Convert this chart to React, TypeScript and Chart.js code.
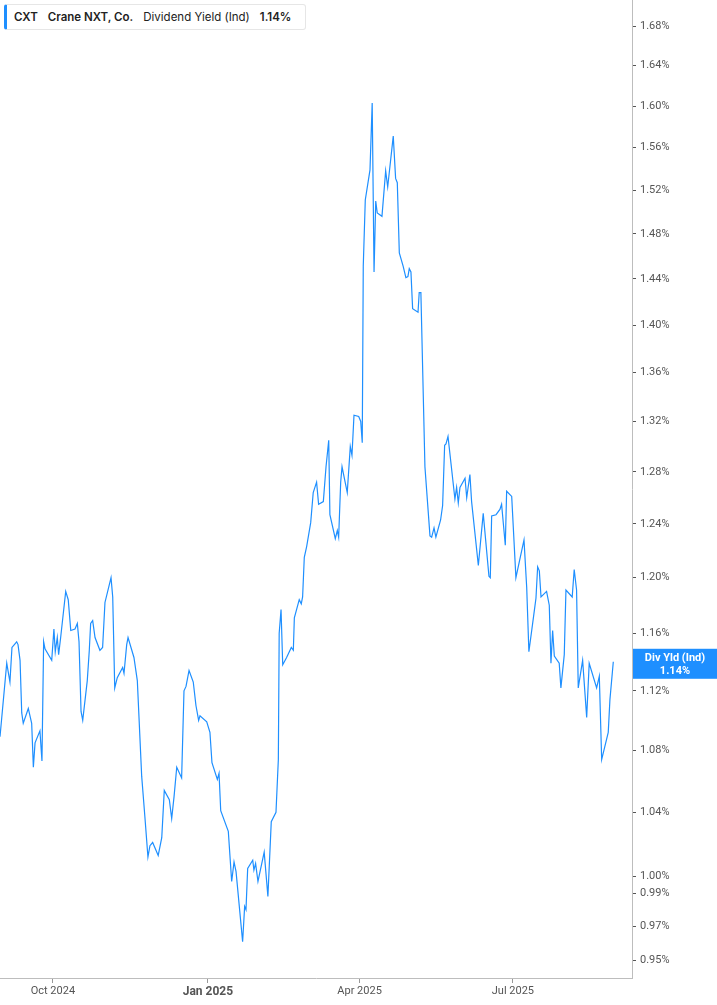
import { useEffect, useRef } from 'react';
import { Chart, registerables } from 'chart.js';

Chart.register(...registerables);

// days counted from 2024-08-30
const dayOffsets = [
  0.6, 4.6, 6.5, 7.7, 10.5, 11.3, 12.5, 13.5, 14.4, 17.4, 19.4, 20.4, 21.4, 24.3, 25.5, 26.5, 27.3, 31.3,
  32.6, 33.4, 34.6, 35.4, 36.6, 39.6, 41.1, 42.6, 45.1, 46.5, 47.5, 48.7, 49.7, 52.4, 53.6, 54.4, 55.6, 57.0,
  59.9, 61.5, 62.9, 66.5, 67.5, 68.7, 70.2, 73.4, 74.2, 75.8, 76.6, 80.1, 82.1, 84.7, 86.6, 88.4, 89.6, 91.2,
  94.5, 96.6, 98.1, 101.1, 102.5, 103.9, 105.5, 108.4, 109.8, 111.0, 112.8, 115.3, 116.9, 118.5, 119.3, 123.3,
  125.2, 126.4, 129.6, 130.6, 131.6, 136.1, 138.1, 139.5, 140.7, 144.6, 145.8, 146.6, 147.6, 150.6, 151.3,
  152.3, 153.7, 157.4, 159.6, 161.6, 164.4, 165.8, 166.3, 167.4, 168.4, 170.7, 173.5, 174.7, 175.3, 178.2,
  179.4, 180.2, 181.2, 182.6, 185.0, 186.5, 188.5, 189.7, 192.5, 194.1, 195.7, 196.4, 199.6, 200.8, 201.6,
  202.8, 203.6, 206.7, 208.5, 209.5, 210.7, 213.5, 214.7, 215.6, 216.2, 217.4, 220.2, 221.5, 222.6, 223.6,
  224.5, 227.3, 229.5, 230.7, 234.0, 235.4, 236.4, 237.6, 239.9, 241.5, 242.7, 243.5, 244.5, 245.5, 248.7,
  249.4, 250.4, 252.8, 255.8, 256.8, 258.2, 259.3, 262.1, 263.3, 264.5, 265.3, 266.5, 270.6, 271.6, 272.6,
  273.6, 276.6, 277.6, 279.5, 280.5, 284.5, 287.4, 290.8, 291.6, 292.4, 295.0, 297.3, 298.3, 300.5, 301.3,
  304.3, 306.8, 311.6, 313.2, 314.5, 317.5, 318.7, 319.7, 320.7, 321.7, 325.0, 326.6, 327.6, 328.6, 329.6,
  332.5, 333.5, 335.5, 336.5, 340.2, 341.4, 342.8, 343.8, 346.4, 348.8, 350.3, 354.7, 356.3, 357.7, 361.6,
  362.6, 364.6,
];

const yieldPct = [
  1.089, 1.139, 1.126, 1.150, 1.154, 1.152, 1.141, 1.105, 1.098, 1.108, 1.098, 1.069, 1.085, 1.093, 1.073, 1.154, 1.149, 1.141,
  1.163, 1.147, 1.157, 1.145, 1.157, 1.190, 1.184, 1.162, 1.163, 1.167, 1.154, 1.106, 1.100, 1.127, 1.148, 1.167, 1.169, 1.157,
  1.148, 1.150, 1.182, 1.200, 1.186, 1.122, 1.129, 1.136, 1.132, 1.152, 1.157, 1.143, 1.127, 1.063, 1.037, 1.012, 1.019, 1.021,
  1.013, 1.024, 1.054, 1.048, 1.036, 1.050, 1.069, 1.062, 1.120, 1.123, 1.134, 1.126, 1.110, 1.100, 1.103, 1.099,
  1.092, 1.072, 1.061, 1.065, 1.041, 1.028, 0.997, 1.009, 1.003, 0.961, 0.982, 0.980, 1.005, 1.010, 1.004,
  1.008, 0.997, 1.015, 0.988, 1.034, 1.040, 1.074, 1.160, 1.177, 1.138, 1.143, 1.150, 1.148, 1.171, 1.184,
  1.181, 1.186, 1.215, 1.223, 1.241, 1.264, 1.272, 1.255, 1.257, 1.284, 1.305, 1.247, 1.229, 1.235, 1.230,
  1.272, 1.284, 1.264, 1.300, 1.293, 1.325, 1.324, 1.320, 1.303, 1.451, 1.511, 1.539, 1.603, 1.446, 1.510,
  1.499, 1.496, 1.538, 1.523, 1.571, 1.531, 1.527, 1.463, 1.451, 1.441, 1.442, 1.449, 1.446, 1.414, 1.411,
  1.428, 1.428, 1.284, 1.231, 1.230, 1.237, 1.230, 1.243, 1.254, 1.301, 1.302, 1.308, 1.259, 1.268, 1.256,
  1.268, 1.275, 1.260, 1.278, 1.257, 1.209, 1.248, 1.201, 1.200, 1.246, 1.247, 1.251, 1.255, 1.224, 1.265,
  1.261, 1.200, 1.228, 1.193, 1.147, 1.174, 1.185, 1.208, 1.205, 1.186, 1.190, 1.180, 1.139, 1.162, 1.144,
  1.139, 1.122, 1.145, 1.191, 1.186, 1.206, 1.191, 1.122, 1.141, 1.102, 1.139, 1.122, 1.130, 1.074, 1.092,
  1.114, 1.140,
];

const yTicks = [0.95, 0.97, 0.99, 1.0, 1.04, 1.08, 1.12, 1.16, 1.2, 1.24, 1.28, 1.32, 1.36, 1.4, 1.44, 1.48, 1.52, 1.56, 1.6, 1.64, 1.68];
const xTickDays = [32, 124, 214, 305];
const xTickLabels = ['Oct 2024', 'Jan 2025', 'Apr 2025', 'Jul 2025'];

const BLUE = '#1e8fff';

const lastTag = {
  id: 'lastTag',
  afterDraw(chart: any) {
    const { ctx, scales } = chart;
    const last = yieldPct[yieldPct.length - 1];
    const y = scales.y.getPixelForValue(last) + 2;
    const left = scales.y.left + 1;
    ctx.save();
    ctx.fillStyle = BLUE;
    ctx.fillRect(left, y - 15, chart.width - left, 30);
    ctx.fillStyle = '#fff';
    ctx.font = 'bold 11px Roboto';
    ctx.textAlign = 'center';
    ctx.textBaseline = 'middle';
    const cx = left + (chart.width - left) / 2;
    ctx.fillText('Div Yld (Ind)', cx, y - 6);
    ctx.fillText(last.toFixed(2) + '%', cx, y + 7);
    ctx.restore();
  },
};

export default function App() {
  const ref = useRef<HTMLCanvasElement | null>(null);

  useEffect(() => {
    if (!ref.current) return;
    const chart = new Chart(ref.current, {
      type: 'line',
      data: {
        datasets: [
          {
            data: dayOffsets.map((d, i) => ({ x: d, y: yieldPct[i] })),
            borderColor: BLUE,
            borderWidth: 1.2,
            pointRadius: 0,
            tension: 0,
            fill: false,
          },
        ],
      },
      options: {
        animation: false,
        responsive: false,
        layout: { padding: 0 },
        plugins: { legend: { display: false }, tooltip: { enabled: false } },
        scales: {
          x: {
            type: 'linear',
            min: 0.6,
            max: 375.7,
            afterBuildTicks: (axis: any) => {
              axis.ticks = xTickDays.map((v) => ({ value: v }));
            },
            afterFit: (axis: any) => {
              axis.height = 27;
              axis.paddingLeft = 0;
              axis.paddingRight = 0;
            },
            grid: { drawOnChartArea: false, tickLength: 5, tickColor: '#999' },
            border: { display: true, color: '#bdbdbd', width: 1 },
            ticks: {
              autoSkip: false,
              maxRotation: 0,
              padding: 2,
              color: '#555',
              font: (c: any) =>
                c.tick && c.tick.value === 124
                  ? { family: 'Roboto', size: 12, weight: 'bold' }
                  : { family: 'Roboto', size: 11 },
              callback: (v: any) => {
                const i = xTickDays.indexOf(Number(v));
                return i >= 0 ? xTickLabels[i] : '';
              },
            },
          },
          y: {
            type: 'logarithmic',
            position: 'right',
            min: 0.9425,
            max: 1.707,
            afterBuildTicks: (axis: any) => {
              axis.ticks = yTicks.map((v) => ({ value: v }));
            },
            afterFit: (axis: any) => {
              axis.width = 85;
              axis.paddingTop = 0;
              axis.paddingBottom = 0;
            },
            grid: { drawOnChartArea: false, tickLength: 4, tickColor: '#555' },
            border: { display: true, color: '#bdbdbd', width: 1 },
            ticks: {
              autoSkip: false,
              padding: 4,
              color: '#555',
              font: { family: 'Roboto', size: 11 },
              callback: (v: any) => Number(v).toFixed(2) + '%',
            },
          },
        },
      },
      plugins: [lastTag],
    } as any);
    return () => chart.destroy();
  }, []);

  return (
    <div style={{ position: 'fixed', left: 0, top: 0, width: 717, height: 1005, background: '#fff' }}>
      <canvas ref={ref} width={717} height={1005} style={{ width: 717, height: 1005 }} />
      <div
        style={{
          position: 'absolute',
          left: 4,
          top: 4,
          height: 26,
          boxSizing: 'border-box',
          display: 'flex',
          alignItems: 'center',
          gap: 10,
          padding: '0 14px 0 7px',
          border: '1px solid #e6e6e6',
          borderLeft: `3px solid ${BLUE}`,
          borderRadius: 3,
          background: '#fff',
          fontFamily: 'Inter, sans-serif',
          fontSize: 11.5,
          color: '#222',
          whiteSpace: 'nowrap',
        }}
      >
        <span style={{ fontWeight: 600 }}>CXT</span>
        <span style={{ fontWeight: 600 }}>Crane NXT, Co.</span>
        <span>Dividend Yield (Ind)</span>
        <span style={{ fontWeight: 600 }}>1.14%</span>
      </div>
    </div>
  );
}
